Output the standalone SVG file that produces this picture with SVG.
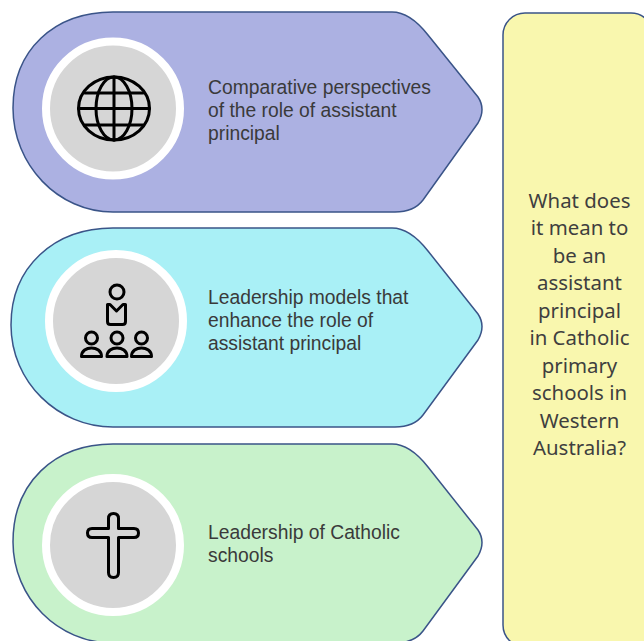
<svg xmlns="http://www.w3.org/2000/svg" width="644" height="641" viewBox="0 0 644 641">
<style>
.shape{stroke:#3a5488;stroke-width:1.5}
.ring{fill:#d6d6d6;stroke:#fff;stroke-width:8}
.ico{fill:none;stroke:#000;stroke-width:3;stroke-linejoin:round;stroke-linecap:round}
.lab{font-family:"Liberation Sans",Arial,sans-serif;font-size:19.300px;fill:#3a3a3a}
.q{font-family:"Noto Sans",sans-serif;font-size:20.400px;fill:#3f3f3f;text-anchor:middle}
</style>
<rect width="644" height="641" fill="#fff"/>
<g id="connectors"></g>
<g id="node-1">
<path class="shape" fill="#acb1e2" d="M113 12H392Q410 12 428 35L478 97Q486 109 478 123L423 200Q414 212 395 212H113C58 212 13 165 13 108C13 50 54 12 113 12Z"/>
<circle class="ring" cx="113" cy="108.500" r="67"/>
<g class="ico"><ellipse cx="114" cy="108.500" rx="35.500" ry="31.500"/><ellipse cx="114" cy="108.500" rx="18" ry="31.500"/><path d="M114 77V140M78.500 108.500H149.500M85 93H143M85 125H143"/></g>
<text class="lab"><tspan x="208" y="94">Comparative perspectives</tspan><tspan x="208" y="117">of the role of assistant</tspan><tspan x="208" y="140">principal</tspan></text>
</g>
<g id="node-2">
<path class="shape" fill="#a9f0f6" d="M113 228H392Q410 228 428 251L478 314Q486 326 478 340L423 415Q414 427 395 427H113C58 427 11 382 11 325C11 267 54 228 113 228Z"/>
<circle class="ring" cx="116" cy="321" r="67"/>
<g class="ico"><circle cx="117" cy="292" r="7"/><path d="M110 304.500H107.500V321.500Q107.500 324.500 110.500 324.500H122.500Q125.500 324.500 125.500 321.500V304.500H123L116.500 311Z"/>
<circle cx="91.500" cy="338" r="6"/><circle cx="117" cy="338" r="6"/><circle cx="141.500" cy="338" r="6"/>
<path d="M81.500 356.500C81.500 345 101.500 345 101.500 356.500ZM107 356.500C107 345 127 345 127 356.500ZM131.500 356.500C131.500 345 151.500 345 151.500 356.500Z"/></g>
<text class="lab"><tspan x="208" y="304">Leadership models that</tspan><tspan x="208" y="327">enhance the role of</tspan><tspan x="208" y="350">assistant principal</tspan></text>
</g>
<g id="node-3">
<path class="shape" fill="#c8f2cb" d="M113 444H392Q410 444 428 467L478 530Q486 542 478 556L423 631Q414 643 395 643H113C58 643 13 598 13 542C13 483 54 444 113 444Z"/>
<circle class="ring" cx="113" cy="545" r="67"/>
<path class="ico" d="M108.500 528.500V518.500Q108.500 513.500 113.500 513.500Q118.500 513.500 118.500 518.500V528.500H134Q138.500 528.500 138.500 533Q138.500 537.500 134 537.500H118.500V572.500Q118.500 577.500 113.500 577.500Q108.500 577.500 108.500 572.500V537.500H92Q87.500 537.500 87.500 533Q87.500 528.500 92 528.500Z"/>
<text class="lab"><tspan x="208" y="539">Leadership of Catholic</tspan><tspan x="208" y="562">schools</tspan></text>
</g>
<g id="node-4">
<rect class="shape" fill="#f9f7ae" x="503" y="13" width="150" height="634" rx="22"/>
<text class="q"><tspan x="579.500" y="207.500">What does</tspan><tspan x="579.500" y="235">it mean to</tspan><tspan x="579.500" y="262.500">be an</tspan><tspan x="579.500" y="290">assistant</tspan><tspan x="579.500" y="317.500">principal</tspan><tspan x="579.500" y="345">in Catholic</tspan><tspan x="579.500" y="372.500">primary</tspan><tspan x="579.500" y="400">schools in</tspan><tspan x="579.500" y="427.500">Western</tspan><tspan x="579.500" y="455">Australia?</tspan></text>
</g>
</svg>
